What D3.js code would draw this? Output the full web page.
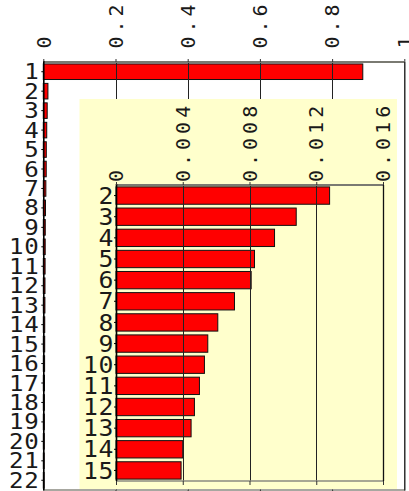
<!DOCTYPE html>
<html><head><meta charset="utf-8">
<script src="https://cdn.jsdelivr.net/npm/d3@7"></script>
<style>
html,body{margin:0;padding:0;background:#fff;overflow:hidden}
text{font-family:"DejaVu Sans Mono",monospace;fill:#1a1a1a}
</style></head>
<body>
<svg id="c" width="409" height="491"></svg>
<script>
const categories = ["1","2","3","4","5","6","7","8","9","10","11","12","13","14","15","16","17","18","19","20","21","22"];
const values = [0.885,0.0128,0.0108,0.0095,0.0083,0.0081,0.0071,0.0061,0.0055,0.0053,0.0050,0.0047,0.0045,0.0040,0.0039,0.0036,0.0033,0.0030,0.0028,0.0026,0.0024,0.0022];
const mainTicks = [0,0.2,0.4,0.6,0.8,1];
const mainTickLabels = ["0","0.2","0.4","0.6","0.8","1"];
const insetCategories = categories.slice(1,15);
const insetValues = values.slice(1,15);
const insetTicks = [0,0.004,0.008,0.012,0.016];
const insetTickLabels = ["0","0.004","0.008","0.012","0.016"];

const svg = d3.select("#c");
const data = categories.map((c,i)=>({c, v: values[i]}));
const idata = insetCategories.map((c,i)=>({c, v: insetValues[i]}));

function drawPanel(g, d, cats, ticks, labels, opt){
  const x = d3.scaleLinear().domain([0, ticks[ticks.length-1]]).range([opt.x0, opt.x1]);
  const y = d3.scaleBand().domain(cats).range([opt.y0, opt.y1]).paddingInner(opt.pad).paddingOuter(opt.pad/2);
  // bars
  g.selectAll("rect.bar").data(d).join("rect").attr("class","bar")
    .attr("x", x(0)).attr("y", r=>y(r.c))
    .attr("width", r=>Math.max(0.8, x(r.v)-x(0))).attr("height", y.bandwidth())
    .attr("fill","#ff0000").attr("stroke","#111").attr("stroke-width",1);
  // gridlines on top
  g.selectAll("line.grid").data(ticks.slice(1,-1)).join("line").attr("class","grid")
    .attr("x1",t=>Math.round(x(t))+0.5).attr("x2",t=>Math.round(x(t))+0.5)
    .attr("y1",opt.y0).attr("y2",opt.y1).attr("stroke","#222").attr("stroke-width",1);
  // borders
  g.append("line").attr("x1",opt.x0).attr("x2",opt.x1).attr("y1",opt.y0).attr("y2",opt.y0)
    .attr("stroke","#7a7a72").attr("stroke-width",2);
  g.append("line").attr("x1",opt.x0).attr("x2",opt.x1).attr("y1",opt.y1).attr("y2",opt.y1)
    .attr("stroke","#8a8a80").attr("stroke-width",1.5);
  g.append("line").attr("x1",opt.x1+0.5).attr("x2",opt.x1+0.5).attr("y1",opt.y0).attr("y2",opt.y1)
    .attr("stroke","#111").attr("stroke-width",1.3);
  g.append("line").attr("x1",opt.x0+0.5).attr("x2",opt.x0+0.5).attr("y1",opt.y0-1).attr("y2",opt.y1)
    .attr("stroke","#000").attr("stroke-width",1.6);
  // category ticks
  g.selectAll("line.ct").data(cats).join("line").attr("class","ct")
    .attr("x1",opt.x0-2).attr("x2",opt.x0).attr("y1",c=>y(c)+y.bandwidth()/2).attr("y2",c=>y(c)+y.bandwidth()/2)
    .attr("stroke","#000");
  // top ticks + bottom ticks
  g.selectAll("line.tt").data(ticks).join("line").attr("class","tt")
    .attr("x1",t=>x(t)+0.5).attr("x2",t=>x(t)+0.5).attr("y1",opt.y0-3).attr("y2",opt.y0).attr("stroke","#333");
  g.selectAll("line.bt").data(ticks).join("line").attr("class","bt")
    .attr("x1",t=>x(t)+0.5).attr("x2",t=>x(t)+0.5).attr("y1",opt.y1).attr("y2",opt.y1+4).attr("stroke","#333");
  // category labels
  g.selectAll("text.cl").data(cats).join("text").attr("class","cl")
    .attr("transform", c=>`translate(${opt.x0-opt.lgap},${y(c)+y.bandwidth()/2}) scale(${opt.sx},1)`)
    .attr("text-anchor","end").attr("dy","0.36em")
    .style("font-size",opt.cfs+"px").style("letter-spacing","0.5px")
    .text(c=>c);
  // rotated tick labels
  g.selectAll("text.tl").data(ticks).join("text").attr("class","tl")
    .attr("transform", (t)=>`translate(${x(t)},${opt.tly}) rotate(-90)`)
    .attr("text-anchor","start").attr("dy","0.36em")
    .style("font-size","20px").style("letter-spacing","4px")
    .text((t,i)=>labels[i]);
}

const main = svg.append("g");
drawPanel(main, data, categories, mainTicks, mainTickLabels,
  {x0:43.3, x1:404.3, y0:62, y1:490, pad:0.2, lgap:4, sx:1.15, cfs:21, tly:48.5});

// inset
svg.append("rect").attr("x",79.5).attr("y",99).attr("width",317.5).attr("height",390).attr("fill","#ffffcc");
const inset = svg.append("g");
drawPanel(inset, idata, insetCategories, insetTicks, insetTickLabels,
  {x0:116, x1:383, y0:185, y1:481, pad:0.18, lgap:2, sx:1.1, cfs:22.5, tly:182});
</script>
</body></html>
